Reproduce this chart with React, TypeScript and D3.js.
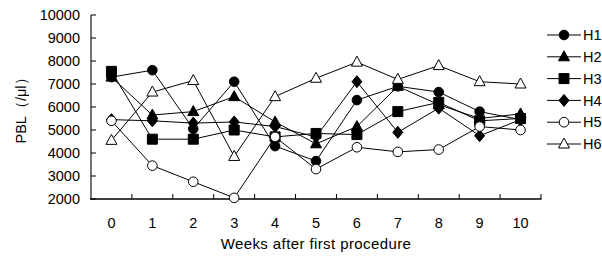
import React from "react";
import * as d3 from "d3";

const weeks = [0, 1, 2, 3, 4, 5, 6, 7, 8, 9, 10];
const seriesNames = ["H1", "H2", "H3", "H4", "H5", "H6"];
const h1 = [7300, 7600, 5050, 7100, 4300, 3650, 6300, 6900, 6650, 5800, 5450];
const h2 = [7300, 5650, 5800, 6450, 5350, 4400, 5150, 6900, 6100, 5500, 5700];
const h3 = [7550, 4600, 4600, 5000, 4700, 4850, 4800, 5800, 6200, 5400, 5500];
const h4 = [5450, 5400, 5300, 5350, 5150, 4700, 7100, 4900, 5950, 4750, 5450];
const h5 = [5400, 3450, 2750, 2050, 4700, 3300, 4250, 4050, 4150, 5150, 5000];
const h6 = [4550, 6650, 7150, 3850, 6450, 7250, 7950, 7200, 7800, 7100, 7000];
const yTicks = [2000, 3000, 4000, 5000, 6000, 7000, 8000, 9000, 10000];

const W = 602;
const H = 256;
const FONT = "'Liberation Sans', Arial, sans-serif";

// marker shape + fill per series
const markers = [
  { shape: "circle", fill: "#000" },
  { shape: "triangle", fill: "#000" },
  { shape: "square", fill: "#000" },
  { shape: "diamond", fill: "#000" },
  { shape: "circle", fill: "#fff" },
  { shape: "triangle", fill: "#fff" },
];

function markerPath(shape: string, cx: number, cy: number) {
  const p = d3.path();
  if (shape === "circle") {
    p.arc(cx, cy, 4.8, 0, Math.PI * 2);
  } else if (shape === "square") {
    p.rect(cx - 5, cy - 5, 10, 10);
  } else if (shape === "triangle") {
    p.moveTo(cx, cy - 6);
    p.lineTo(cx + 5.5, cy + 4);
    p.lineTo(cx - 5.5, cy + 4);
    p.closePath();
  } else {
    p.moveTo(cx, cy - 6);
    p.lineTo(cx + 5, cy);
    p.lineTo(cx, cy + 6);
    p.lineTo(cx - 5, cy);
    p.closePath();
  }
  return p.toString();
}

export default function App() {
  const data = [h1, h2, h3, h4, h5, h6];

  const x = d3
    .scaleBand<number>()
    .domain(weeks)
    .range([91, 541])
    .paddingInner(0)
    .paddingOuter(0);
  const y = d3.scaleLinear().domain([2000, 10000]).range([199, 15]);
  const cx = (w: number) => (x(w) ?? 0) + x.bandwidth() / 2;

  const line = d3
    .line<number>()
    .x((_, i) => cx(weeks[i]))
    .y((d) => y(d));

  const legendY = (i: number) => 35 + i * 21.8;

  return (
    <svg
      width={W}
      height={H}
      style={{ position: "absolute", left: 0, top: 0, background: "#fff" }}
      fontFamily={FONT}
    >
      <rect width={W} height={H} fill="#fff" />

      {/* y axis */}
      <line x1={91} x2={91} y1={y(10000)} y2={y(2000)} stroke="#444" strokeWidth={1.5} />
      {yTicks.map((t) => (
        <g key={t}>
          <line x1={91} x2={96} y1={y(t)} y2={y(t)} stroke="#000" strokeWidth={1} />
          <text
            x={80}
            y={y(t)}
            dy="0.36em"
            textAnchor="end"
            fontSize={14.5}
            fill="#000"
          >
            {t}
          </text>
        </g>
      ))}

      {/* x axis */}
      <line x1={90} x2={541.5} y1={199} y2={199} stroke="#000" strokeWidth={1.5} />
      {weeks.map((w) => (
        <g key={w}>
          <line
            x1={(x(w) ?? 0) + x.bandwidth()}
            x2={(x(w) ?? 0) + x.bandwidth()}
            y1={199}
            y2={194}
            stroke="#000"
            strokeWidth={1}
          />
          <text x={cx(w)} y={228} textAnchor="middle" fontSize={14.5} fill="#000">
            {w}
          </text>
        </g>
      ))}

      {/* axis titles */}
      <text
        transform="translate(26,107) rotate(-90)"
        textAnchor="middle"
        fontSize={14.5}
        fill="#000"
      >
        PBL（/μl）
      </text>
      <text x={316} y={249} textAnchor="middle" fontSize={15} fill="#000" letterSpacing={0.4}>
        Weeks after first procedure
      </text>

      {/* series */}
      {data.map((vals, si) => (
        <g key={seriesNames[si]}>
          <path d={line(vals) ?? ""} fill="none" stroke="#000" strokeWidth={1} />
          {vals.map((v, i) => (
            <path
              key={i}
              d={markerPath(markers[si].shape, cx(weeks[i]), y(v))}
              fill={markers[si].fill}
              stroke="#000"
              strokeWidth={1}
            />
          ))}
        </g>
      ))}

      {/* legend */}
      {seriesNames.map((name, i) => (
        <g key={name}>
          <line x1={547} x2={581} y1={legendY(i)} y2={legendY(i)} stroke="#000" strokeWidth={1} />
          <path
            d={markerPath(markers[i].shape, 564, legendY(i))}
            fill={markers[i].fill}
            stroke="#000"
            strokeWidth={1}
          />
          <text x={583} y={legendY(i)} dy="0.36em" fontSize={14.5} fill="#000">
            {name}
          </text>
        </g>
      ))}
    </svg>
  );
}
